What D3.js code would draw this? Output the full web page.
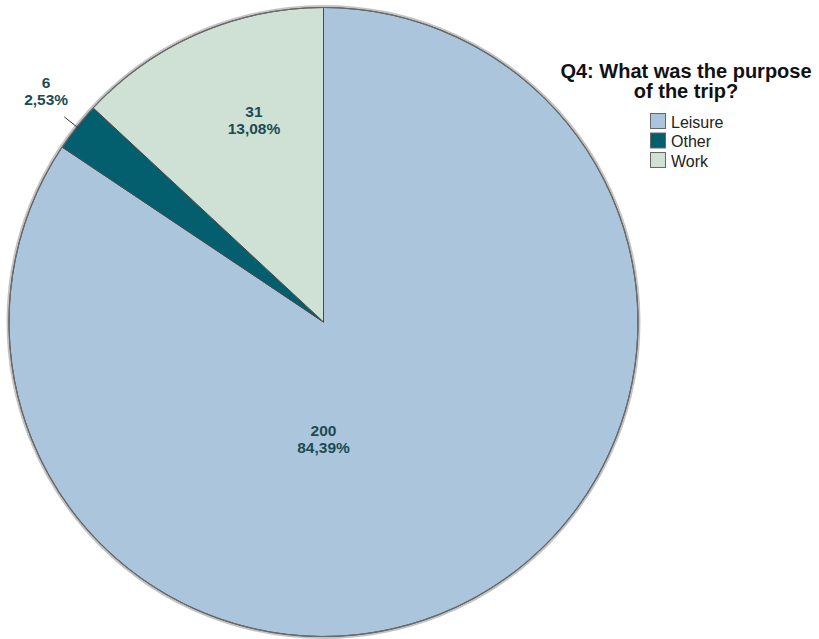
<!DOCTYPE html>
<html>
<head>
<meta charset="utf-8">
<script src="https://cdn.jsdelivr.net/npm/d3@7"></script>
<style>
  html, body { margin: 0; padding: 0; background: #ffffff; }
  svg { display: block; }
</style>
</head>
<body>
<svg id="chart" width="819" height="639"></svg>
<script>
// Q4 survey responses: purpose of the trip
const categories = ["Leisure", "Other", "Work"];
const counts = [200, 6, 31];
const percentLabels = ["84,39%", "2,53%", "13,08%"];
const colors = ["#abc5dd", "#035f6d", "#cfe0d4"];
const titleLines = ["Q4: What was the purpose", "of the trip?"];

const W = 819, H = 639;
const cx = 323.5, cy = 322, R = 314.5;
const labelColor = "#1b4c52";

const svg = d3.select("#chart");

const data = categories.map((c, i) => ({ category: c, count: counts[i], pct: percentLabels[i] }));

const color = d3.scaleOrdinal().domain(categories).range(colors);

const pie = d3.pie().value(d => d.count).sort(null);
const arcs = pie(data);

const arc = d3.arc().innerRadius(0).outerRadius(R);

const g = svg.append("g").attr("transform", `translate(${cx},${cy})`);

// soft rim around the pie
g.append("circle").attr("r", R + 1).attr("fill", "none")
  .attr("stroke", "#c4c4c4").attr("stroke-width", 3);

g.selectAll("path.slice")
  .data(arcs)
  .join("path")
  .attr("class", "slice")
  .attr("d", arc)
  .attr("fill", d => color(d.data.category))
  .attr("stroke", "#4a4a4a")
  .attr("stroke-width", 1)
  .attr("stroke-linejoin", "round");

g.append("circle").attr("r", R).attr("fill", "none")
  .attr("stroke", "#6a6a6a").attr("stroke-width", 1.2);

// label placement: angle (deg, clockwise from 12 o'clock) and radius factor;
// small slices get an outside label with a leader line
const placement = {
  Leisure: { angle: 180, radius: 0.372, outside: false },
  Work: { angle: 341, radius: 0.679, outside: false },
  Other: { angle: 309.8, radius: 1.148, outside: true }
};

function polar(angleRad, r) {
  return [r * Math.sin(angleRad), -r * Math.cos(angleRad)];
}

arcs.forEach(a => {
  const p = placement[a.data.category];
  const mid = (a.startAngle + a.endAngle) / 2;
  const ang = p.angle !== undefined ? p.angle * Math.PI / 180 : mid;
  const [lx, ly] = polar(ang, R * p.radius);
  if (p.outside) {
    const [x1, y1] = polar(mid, R - 2);
    const [x2, y2] = polar(mid, R + 16);
    g.append("line").attr("x1", x1).attr("y1", y1).attr("x2", x2).attr("y2", y2)
      .attr("stroke", "#333").attr("stroke-width", 1);
  }
  const t = g.append("text")
    .attr("x", lx).attr("y", ly)
    .attr("text-anchor", "middle")
    .attr("font-family", "'Liberation Sans', Arial, sans-serif")
    .attr("font-weight", "bold")
    .attr("font-size", 15.5)
    .attr("fill", labelColor);
  t.append("tspan").attr("x", lx).attr("dy", -3).text(a.data.count);
  t.append("tspan").attr("x", lx).attr("dy", 17).text(a.data.pct);
});

// legend
const legendX = 686;
svg.append("text")
  .attr("x", legendX).attr("y", 77.5)
  .attr("text-anchor", "middle")
  .attr("font-family", "'Liberation Sans', Arial, sans-serif")
  .attr("font-weight", "bold")
  .attr("font-size", 20)
  .attr("fill", "#111")
  .selectAll("tspan")
  .data(titleLines)
  .join("tspan")
  .attr("x", legendX)
  .attr("dy", (d, i) => i === 0 ? 0 : 20.5)
  .text(d => d);

const items = svg.append("g").attr("transform", "translate(650,113)");
const item = items.selectAll("g")
  .data(categories)
  .join("g")
  .attr("transform", (d, i) => `translate(0,${i * 19.5})`);

item.append("rect")
  .attr("x", 0.5).attr("y", 0.5)
  .attr("width", 15).attr("height", 15)
  .attr("fill", d => color(d))
  .attr("stroke", "#666").attr("stroke-width", 1);

item.append("text")
  .attr("x", 21).attr("y", 14.5)
  .attr("font-family", "'Liberation Sans', Arial, sans-serif")
  .attr("font-size", 16)
  .attr("fill", "#222")
  .text(d => d);
</script>
</body>
</html>
